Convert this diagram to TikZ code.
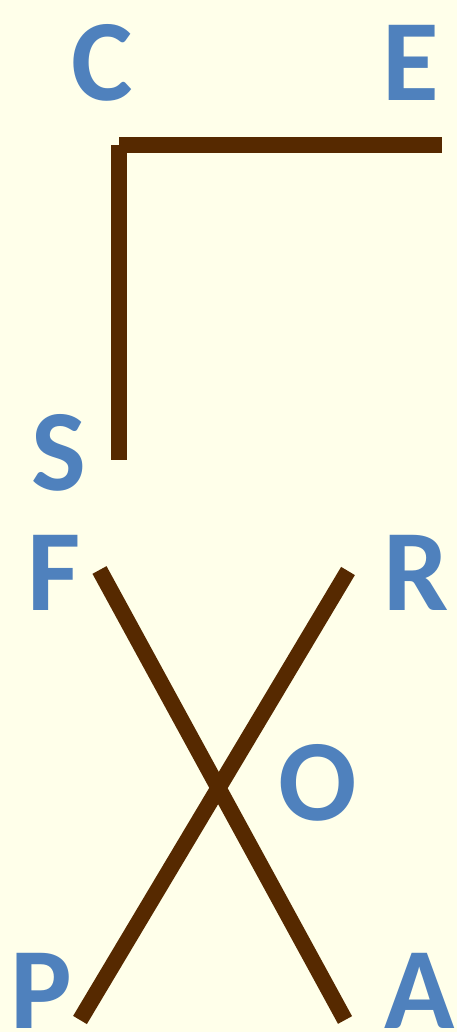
\documentclass[tikz,border=0pt]{standalone}
\usepackage{fontspec}
\setmainfont{Carlito}
\definecolor{bg}{HTML}{FFFFEA}
\definecolor{letter}{HTML}{4F81BD}
\definecolor{bar}{HTML}{562900}
\begin{document}
\begin{tikzpicture}[x=1pt,y=1pt,
  lbl/.style={anchor=base,inner sep=0pt,text=letter,font=\fontsize{116}{120}\selectfont\bfseries},
  barline/.style={draw=bar,line width=16pt,line cap=butt}]
\fill[bg] (0,0) rectangle (457,1032);
\useasboundingbox (0,0) rectangle (457,1032);
\node[lbl] (C) at (102.5,931) {C};
\node[lbl] (E) at (411,931) {E};
\node[lbl] (S) at (58.5,541) {S};
\node[lbl] (F) at (54,421) {F};
\node[lbl] (R) at (416,421) {R};
\node[lbl] (O) at (317.5,211) {O};
\node[lbl] (P) at (41.5,3) {P};
\node[lbl] (A) at (420,3) {A};
\coordinate (hl) at (119,887);
\coordinate (hr) at (442,887);
\coordinate (vt) at (119,887);
\coordinate (vb) at (119,572);
\coordinate (f1) at (99.5,462);
\coordinate (a1) at (345,12);
\coordinate (r1) at (348,461);
\coordinate (p1) at (80,12);
\draw[barline] (hl) -- (hr);
\draw[barline] (vt) -- (vb);
\draw[barline] (f1) -- (a1);
\draw[barline] (r1) -- (p1);
\end{tikzpicture}
\end{document}
